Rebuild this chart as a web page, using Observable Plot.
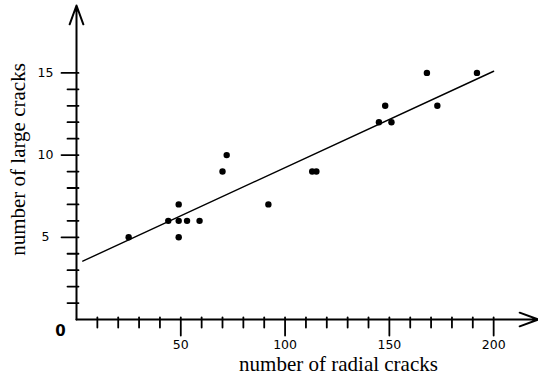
<!DOCTYPE html>
<html>
<head>
<meta charset="utf-8">
<script src="https://cdn.jsdelivr.net/npm/d3@7"></script>
<script src="https://cdn.jsdelivr.net/npm/@observablehq/plot@0.6"></script>
<style>
  html, body { margin: 0; padding: 0; background: #fff; }
  svg { display: block; }
</style>
</head>
<body>
<script>
// Data
const radialCracks = [25, 44, 49, 49, 49, 53, 59, 70, 72, 92, 113, 115, 145, 148, 151, 168, 173, 192];
const largeCracks  = [5, 6, 7, 6, 5, 6, 6, 9, 10, 7, 9, 9, 12, 13, 12, 15, 13, 15];

// Fitted line endpoints (as drawn)
const fitX = [3, 200];
const fitY = [3.55, 15.1];

// Axis extents and ticks
const xMax = 221.5;
const yMax = 19.1;
const xMajor = [50, 100, 150, 200];
const xMinor = [10, 20, 30, 40, 60, 70, 80, 90, 110, 120, 130, 140, 160, 170, 180, 190];
const yMajor = [5, 10, 15];
const yMinor = [1, 2, 3, 4, 6, 7, 8, 9, 11, 12, 13, 14];
const originLabel = ["0"];
const xTitle = ["number of radial cracks"];
const yTitle = ["number of large cracks"];

const points = radialCracks.map((x, i) => ({x, y: largeCracks[i]}));
const fit = fitX.map((x, i) => ({x, y: fitY[i]}));
const axes = [
  {x1: 0, y1: 0, x2: xMax, y2: 0},
  {x1: 0, y1: 0, x2: 0, y2: yMax}
];

const tickFont = "'DejaVu Sans', sans-serif";
const serif = "'Liberation Serif', 'Times New Roman', serif";

// a plain line segment shape for tick marks
const segment = {draw(context, l) { context.moveTo(0, 2); context.lineTo(0, -l); }};
const tickOpts = {shape: segment, anchor: "start", stroke: "#000", strokeWidth: 1.8};

const chart = Plot.plot({
  width: 538,
  height: 381,
  marginLeft: 76,
  marginRight: 0,
  marginTop: 5,
  marginBottom: 62,
  x: {domain: [0, xMax], axis: null},
  y: {domain: [0, yMax], axis: null},
  style: {background: "#fff", color: "#000", overflow: "visible"},
  marks: [
    Plot.vector(yMinor, {...tickOpts, y: d => d, frameAnchor: "left", rotate: -90, length: 9}),
    Plot.vector(yMajor, {...tickOpts, y: d => d, frameAnchor: "left", rotate: -90, length: 15}),
    Plot.vector(xMinor, {...tickOpts, x: d => d, frameAnchor: "bottom", rotate: 180, length: 8}),
    Plot.vector(xMajor, {...tickOpts, x: d => d, frameAnchor: "bottom", rotate: 180, length: 16}),
    Plot.arrow(axes, {x1: "x1", y1: "y1", x2: "x2", y2: "y2", stroke: "#000", strokeWidth: 2, headLength: 15, headAngle: 40}),
    Plot.text(yMajor, {y: d => d, text: d => String(d), frameAnchor: "left", dx: -31, textAnchor: "middle",
      fontFamily: tickFont, fontSize: 12.5, letterSpacing: "1.5px", fill: "#000"}),
    Plot.text(xMajor, {x: d => d, text: d => String(d), frameAnchor: "bottom", dy: 29, textAnchor: "middle",
      fontFamily: tickFont, fontSize: 12.5, letterSpacing: "1.5px", fill: "#000"}),
    Plot.text(originLabel, {text: d => d, frameAnchor: "bottom-left", dx: -16, dy: 16, textAnchor: "middle",
      fontFamily: tickFont, fontSize: 15, fontWeight: "bold", fill: "#000"}),
    Plot.line(fit, {x: "x", y: "y", stroke: "#000", strokeWidth: 1.4}),
    Plot.dot(points, {x: "x", y: "y", r: 3.2, fill: "#000", stroke: "none"}),
    Plot.text(xTitle, {text: d => d, frameAnchor: "bottom", dx: 31, dy: 51, textAnchor: "middle",
      fontFamily: serif, fontSize: 21, fill: "#000"}),
    Plot.text(yTitle, {text: d => d, frameAnchor: "left", rotate: -90, dx: -58, dy: -3, textAnchor: "middle",
      fontFamily: serif, fontSize: 21, fill: "#000"})
  ]
});
document.body.appendChild(chart);
</script>
</body>
</html>
